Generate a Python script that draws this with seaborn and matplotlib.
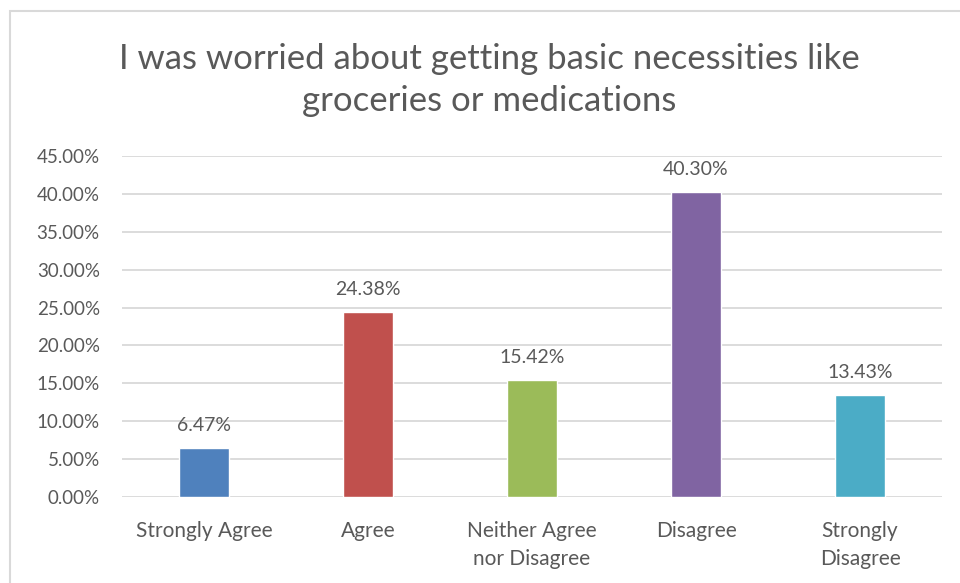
import matplotlib
matplotlib.use("Agg")
import matplotlib.pyplot as plt
import seaborn as sns
import pandas as pd
from matplotlib.patches import Rectangle
from matplotlib.ticker import FuncFormatter, MultipleLocator

categories = ["Strongly Agree", "Agree", "Neither Agree\nnor Disagree", "Disagree", "Strongly\nDisagree"]
values = [6.47, 24.38, 15.42, 40.30, 13.43]
colors = ["#4F81BD", "#C0504D", "#9BBB59", "#8064A2", "#4BACC6"]
title = "I was worried about getting basic necessities like\ngroceries or medications"

df = pd.DataFrame({"category": categories, "pct": values})

sns.set_theme(style="white")
plt.rcParams["font.family"] = ["Lato", "DejaVu Sans"]
text_color = "#595959"
grid_color = "#D9D9D9"

fig = plt.figure(figsize=(9.6, 5.83), dpi=100)
ax = fig.add_axes([122 / 960, 1 - 497 / 583, 820 / 960, (497 - 156) / 583])

sns.barplot(data=df, x="category", y="pct", hue="category", palette=colors,
            legend=False, width=0.31, ax=ax, saturation=1)

ax.set_ylim(0, 45)
ax.yaxis.set_major_locator(MultipleLocator(5))
ax.yaxis.set_major_formatter(FuncFormatter(lambda v, _: f"{v:.2f}%"))
ax.set_xlim(-0.5, len(categories) - 0.5)
ax.grid(axis="y", color=grid_color, linewidth=1.3)
ax.set_axisbelow(True)
for s in ax.spines.values():
    s.set_visible(False)
ax.tick_params(axis="both", length=0, colors=text_color)
ax.tick_params(axis="y", pad=16, labelsize=13.5)
ax.tick_params(axis="x", pad=17, labelsize=15)
for lbl in ax.get_xticklabels():
    lbl.set_linespacing(1.5)
ax.set_xlabel("")
ax.set_ylabel("")

for container in ax.containers:
    ax.bar_label(container, fmt="%.2f%%", padding=10, fontsize=14, color=text_color)

fig.text(0.51, 1 - 80 / 583, title, ha="center", va="center",
         fontsize=25, color=text_color, linespacing=1.42)

fig.patches.append(Rectangle((10 / 960, -0.1), 1.2, 1 - 11 / 583 + 0.1,
                             transform=fig.transFigure, fill=False,
                             edgecolor=grid_color, linewidth=1.5))

fig.savefig("out.png", dpi=100)
